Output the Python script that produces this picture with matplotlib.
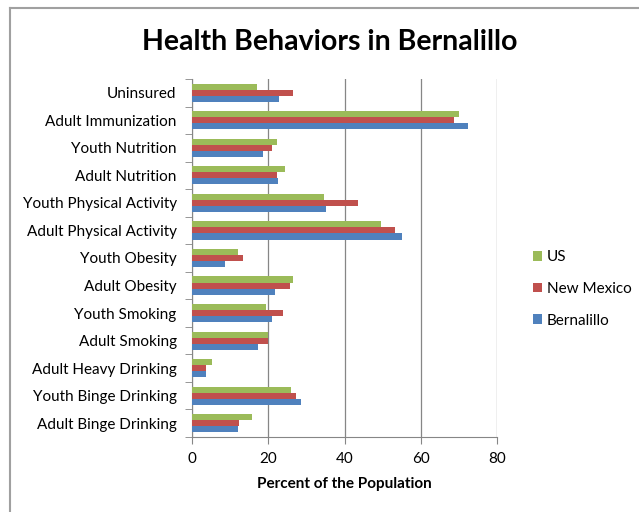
import matplotlib
matplotlib.use("Agg")
import matplotlib.pyplot as plt
import numpy as np
from matplotlib.lines import Line2D

plt.rcParams['font.family'] = ['Lato', 'DejaVu Sans']

categories = ["Uninsured", "Adult Immunization", "Youth Nutrition", "Adult Nutrition",
              "Youth Physical Activity", "Adult Physical Activity", "Youth Obesity",
              "Adult Obesity", "Youth Smoking", "Adult Smoking", "Adult Heavy Drinking",
              "Youth Binge Drinking", "Adult Binge Drinking"]
us = [17.1, 70.0, 22.2, 24.3, 34.6, 49.5, 12.0, 26.5, 19.4, 19.9, 5.2, 25.9, 15.8]
new_mexico = [26.6, 68.8, 20.9, 22.3, 43.5, 53.3, 13.4, 25.7, 23.8, 20.0, 3.8, 27.4, 12.2]
bernalillo = [22.8, 72.4, 18.5, 22.6, 35.1, 55.1, 8.7, 21.9, 20.9, 17.2, 3.7, 28.5, 12.0]
x_ticks = [0, 20, 40, 60, 80]

fig = plt.figure(figsize=(6.39, 5.12), dpi=100)
ax = fig.add_axes([192/639, 1-437/512, 305/639, 358/512])

n = len(categories)
ypos = np.arange(n)[::-1]
h = 0.22
c_us = '#9BBB59'
c_nm = '#C0504D'
c_be = '#4F81BD'
ax.barh(ypos + h, us, height=h, color=c_us, label='US', zorder=3)
ax.barh(ypos, new_mexico, height=h, color=c_nm, label='New Mexico', zorder=3)
ax.barh(ypos - h, bernalillo, height=h, color=c_be, label='Bernalillo', zorder=3)

ax.set_xlim(0, 80)
ax.set_ylim(-0.5, n - 0.5)
ax.set_xticks(x_ticks)
ax.set_xticklabels([str(t) for t in x_ticks], fontsize=11)
ax.set_yticks(ypos)
ax.set_yticklabels(categories, fontsize=11)
ax.set_yticks(np.arange(n + 1) - 0.5, minor=True)
ax.tick_params(axis='y', which='major', length=0, pad=11)
ax.tick_params(axis='y', which='minor', length=5, color='#868686')
ax.tick_params(axis='x', length=5, color='#868686', pad=6)
ax.grid(axis='x', color='#868686', linewidth=0.9, zorder=0)
for s in ['top', 'right']:
    ax.spines[s].set_visible(False)
for s in ['left', 'bottom']:
    ax.spines[s].set_color('#868686')
ax.set_xlabel('Percent of the Population', fontsize=11, fontweight='bold', labelpad=8)

fig.text(330/639, 1-42/512, 'Health Behaviors in Bernalillo', fontsize=20.5,
         fontweight='bold', ha='center', va='center')

handles, labels = ax.get_legend_handles_labels()
leg = fig.legend(handles, labels, loc='center left', bbox_to_anchor=(527/639, 1-289/512),
                 frameon=False, fontsize=11, handlelength=0.6, handleheight=0.6,
                 labelspacing=1.15, handletextpad=0.3, borderaxespad=0)

fig.add_artist(Line2D([10/639, 1], [1-8/512, 1-8/512], color='#A0A0A0', linewidth=1.5))
fig.add_artist(Line2D([10/639, 10/639], [0, 1-8/512], color='#A0A0A0', linewidth=1.5))

fig.savefig('out.png', dpi=100)
